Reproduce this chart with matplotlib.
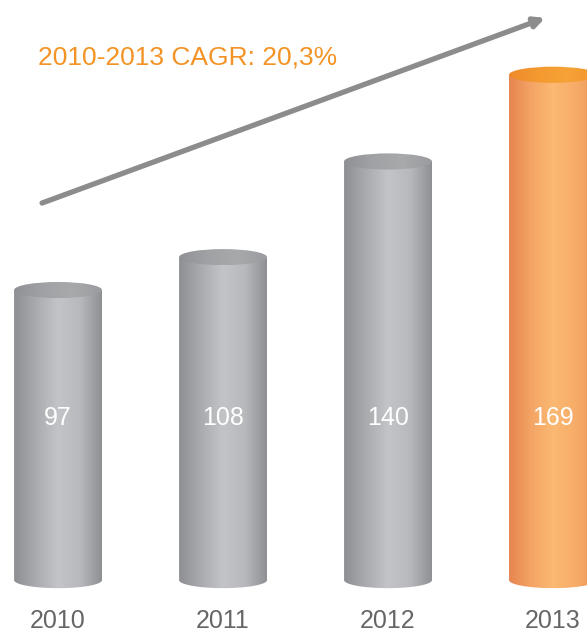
import numpy as np
import matplotlib
matplotlib.use("Agg")
import matplotlib.pyplot as plt
from matplotlib.colors import LinearSegmentedColormap
from matplotlib.patches import Ellipse, Polygon

years = ["2010", "2011", "2012", "2013"]
values = [97, 108, 140, 169]
cagr_text = "2010-2013 CAGR: 20,3%"

GRAY_TEXT = "#666666"
ORANGE = "#F39325"
ARROW = "#8C8C8C"

gray_body = LinearSegmentedColormap.from_list(
    "gray_body", ["#8d8f92", "#a9abae", "#c2c4c7", "#b7b9bc", "#8e9093"])
gray_top = LinearSegmentedColormap.from_list(
    "gray_top", ["#8f9194", "#a0a2a5", "#a7a9ab", "#9a9c9f"])
orange_body = LinearSegmentedColormap.from_list(
    "orange_body", ["#e6854f", "#f4a465", "#fbb972", "#f7ad69", "#ee9659"])
orange_top = LinearSegmentedColormap.from_list(
    "orange_top", ["#ee8a2a", "#f49a30", "#f6a236", "#f2962e"])

# bar geometry (x in category units, y in value units)
xpos = np.array([0.0, 1.0, 2.0, 3.0])
bar_w = 0.533
ell_h = 5.4

fig = plt.figure(figsize=(5.87, 6.33), dpi=100)
ax = fig.add_axes([0, 0, 1, 1])
ax.set_xlim(-0.352, 3.206)
ax.set_ylim(-17.7, 194.0)
ax.axis("off")

grad = np.linspace(0, 1, 256).reshape(1, -1)
t = np.linspace(0, np.pi, 80)

for i, (x, v) in enumerate(zip(xpos, values)):
    last = i == len(values) - 1
    body_cm = orange_body if last else gray_body
    top_cm = orange_top if last else gray_top
    x0, x1 = x - bar_w / 2, x + bar_w / 2

    # body outline: straight top, sides, rounded bottom
    bx = x + (bar_w / 2) * np.cos(t)
    by = -(ell_h / 2) * np.sin(t)
    pts = np.vstack([[[x0, v], [x1, v]], np.column_stack([bx, by])])
    body = Polygon(pts, closed=True, facecolor="none", edgecolor="none")
    ax.add_patch(body)
    im = ax.imshow(grad, cmap=body_cm, extent=[x0, x1, -ell_h, v],
                   aspect="auto", zorder=2)
    im.set_clip_path(body)

    top = Ellipse((x, v), bar_w, ell_h, facecolor="none", edgecolor="none")
    ax.add_patch(top)
    im2 = ax.imshow(grad, cmap=top_cm,
                    extent=[x0, x1, v - ell_h / 2, v + ell_h / 2],
                    aspect="auto", zorder=3)
    im2.set_clip_path(top)

    ax.text(x, 54.2, str(v), ha="center", va="center", color="white",
            fontsize=18, family="Liberation Sans", zorder=4)
    ax.text(x, -13.7, years[i], ha="center", va="center", color=GRAY_TEXT,
            fontsize=18, family="Liberation Sans")

# growth arrow
ax.annotate("", xy=(2.952, 188.0), xytext=(-0.097, 126.1),
            arrowprops=dict(arrowstyle="-|>,head_length=0.6,head_width=0.3",
                            color=ARROW, lw=3.8, shrinkA=0, shrinkB=0))

ax.text(-0.121, 174.9, cagr_text, ha="left", va="center", color=ORANGE,
        fontsize=19, family="Liberation Sans")

fig.savefig("out.png", dpi=100, facecolor="white")
